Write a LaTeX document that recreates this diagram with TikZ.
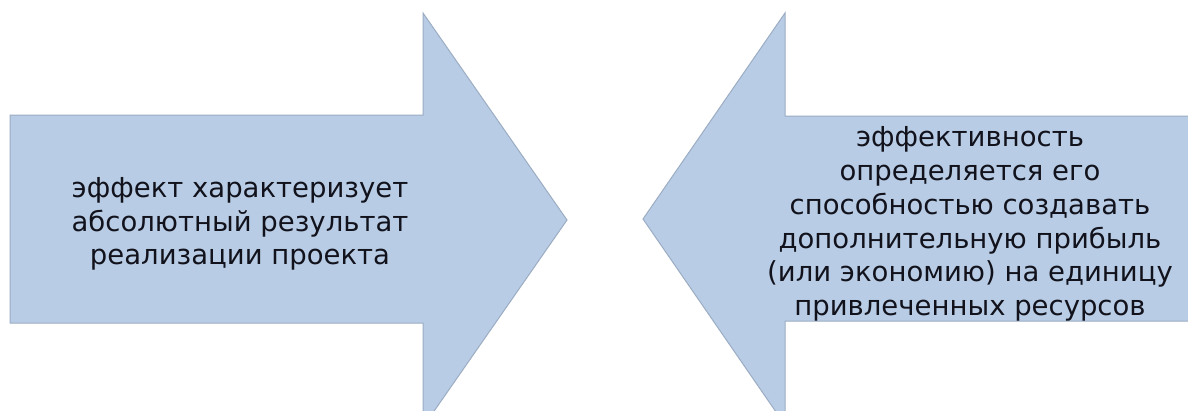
\documentclass[tikz,border=0pt]{standalone}
\usepackage{fontspec}
\setmainfont{DejaVu Sans}
\definecolor{arrowfill}{RGB}{184,205,229}
\definecolor{arrowedge}{RGB}{155,172,195}
\definecolor{txt}{RGB}{18,18,28}
\tikzset{
  bigarrow/.style={fill=arrowfill, draw=arrowedge, line width=1pt, line join=miter},
  label/.style={align=center, text=txt, font=\fontsize{27.5}{33.8}\selectfont, inner sep=0pt}
}
\begin{document}
\begin{tikzpicture}[x=1pt,y=-1pt]
\useasboundingbox (0,0) rectangle (1188,410);
\fill[white] (0,0) rectangle (1188,410);
\begin{scope}
\clip (0,0) rectangle (1188,410);
\draw[bigarrow] (10,115) -- (423,115) -- (423,13) -- (567,220) -- (423,427) -- (423,323) -- (10,323) -- cycle;
\draw[bigarrow] (1200,116) -- (785,116) -- (785,13) -- (643,219) -- (785,425) -- (785,321) -- (1200,321) -- cycle;
\end{scope}
\node[label] (effect) at (240,224) {эффект характеризует\\абсолютный результат\\реализации проекта};
\node[label] (efficiency) at (970,224) {эффективность\\определяется его\\способностью создавать\\дополнительную прибыль\\(или экономию) на единицу\\привлеченных ресурсов};
\end{tikzpicture}
\end{document}
